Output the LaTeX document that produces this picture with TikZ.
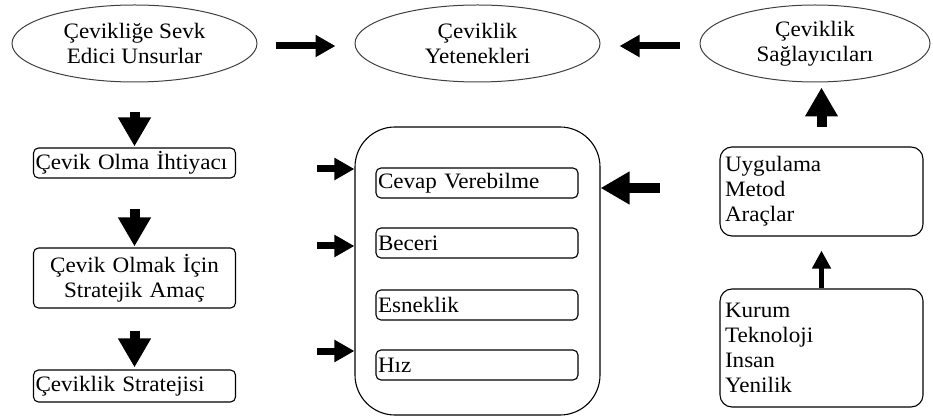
\documentclass[tikz,border=0pt]{standalone}
\usepackage{fontspec}
\setmainfont[FakeStretch=1.05]{Liberation Serif}
\usetikzlibrary{arrows.meta,shapes.geometric}
\begin{document}
\begin{tikzpicture}[x=1pt,y=-1pt,
  font=\fontsize{22}{25}\selectfont,
  oval/.style={ellipse, draw=black!75, line width=1pt, minimum width=245pt,
    minimum height=77pt, inner sep=0pt, align=center},
  card/.style={draw, line width=1.1pt, rounded corners=5pt, minimum width=202pt,
    inner sep=0pt, text width=198pt, align=left},
  list/.style={draw, line width=1.1pt, rounded corners=12pt, minimum width=203pt,
    inner sep=0pt, text width=193pt, align=left},
  fatarrow/.style={line width=10pt, -{Triangle[length=29pt,width=31pt]}},
  thinarrow/.style={line width=7pt, -{Triangle[length=20pt,width=21pt]}},
  slimarrow/.style={line width=5.5pt, -{Triangle[length=18pt,width=18pt]}}]
\useasboundingbox (0,0) rectangle (933,419);

% top row of ellipses
\node[oval] (e1) at (134.5,43.5) {Çevikliğe Sevk\\Edici Unsurlar};
\node[oval] (e2) at (477.5,43.5) {Çeviklik\\Yetenekleri};
\node[oval, minimum width=230pt] (e3) at (815,43.5) {Çeviklik\\Sağlayıcıları};

% left column
\node[card, minimum height=30pt] (l1) at (134.5,163) {Çevik Olma İhtiyacı};
\node[card, minimum height=60pt, align=center] (l2) at (134.5,278) {Çevik Olmak İçin\\Stratejik Amaç};
\node[card, minimum height=32pt] (l3) at (134.5,386) {Çeviklik Stratejisi};

% central container with the four capabilities
\node[draw, line width=1.1pt, rounded corners=40pt, minimum width=245pt,
  minimum height=288pt] (big) at (477.5,271) {};
\node[card, minimum height=30pt] (c1) at (477,183) {Cevap Verebilme};
\node[card, minimum height=30pt] (c2) at (477,243) {Beceri};
\node[card, minimum height=30pt] (c3) at (477,305) {Esneklik};
\node[card, minimum height=30pt] (c4) at (477,365) {Hız};

% right column
\node[list, minimum height=89pt] (r1) at (821.5,191.5) {Uygulama\\Metod\\Araçlar};
\node[list, minimum height=118pt] (r2) at (821.5,348) {Kurum\\Teknoloji\\Insan\\Yenilik};

% free arrow tails
\coordinate (in1) at (317,169);
\coordinate (in2) at (317,246);
\coordinate (in3) at (317,351);
\coordinate (in4) at (660,188);

% arrows
\draw[thinarrow] ([xshift=18pt,yshift=-2.5pt]e1.east) -- ([xshift=-19pt,yshift=-2.5pt]e2.west);
\draw[thinarrow] ([xshift=-20pt,yshift=-2.5pt]e3.west) -- ([xshift=19pt,yshift=-2.5pt]e2.east);
\draw[fatarrow] ([yshift=19pt]r1.north) -- ([yshift=-5pt]r1.north |- e3.south);
\draw[slimarrow] (r2.north) -- ([yshift=-14pt]r1.south);

\draw[fatarrow] ([yshift=-30pt]e1.south) -- ([yshift=1pt]l1.north);
\draw[fatarrow] ([yshift=-30pt]l1.south) -- ([yshift=1pt]l2.north);
\draw[fatarrow] ([yshift=-22pt]l2.south) -- ([yshift=2pt]l3.north);

\draw[thinarrow] (in1) -- (in1 -| big.west);
\draw[thinarrow] (in2) -- (in2 -| big.west);
\draw[thinarrow] (in3) -- (in3 -| big.west);
\draw[fatarrow] (in4) -- (in4 -| big.east);
\end{tikzpicture}
\end{document}
